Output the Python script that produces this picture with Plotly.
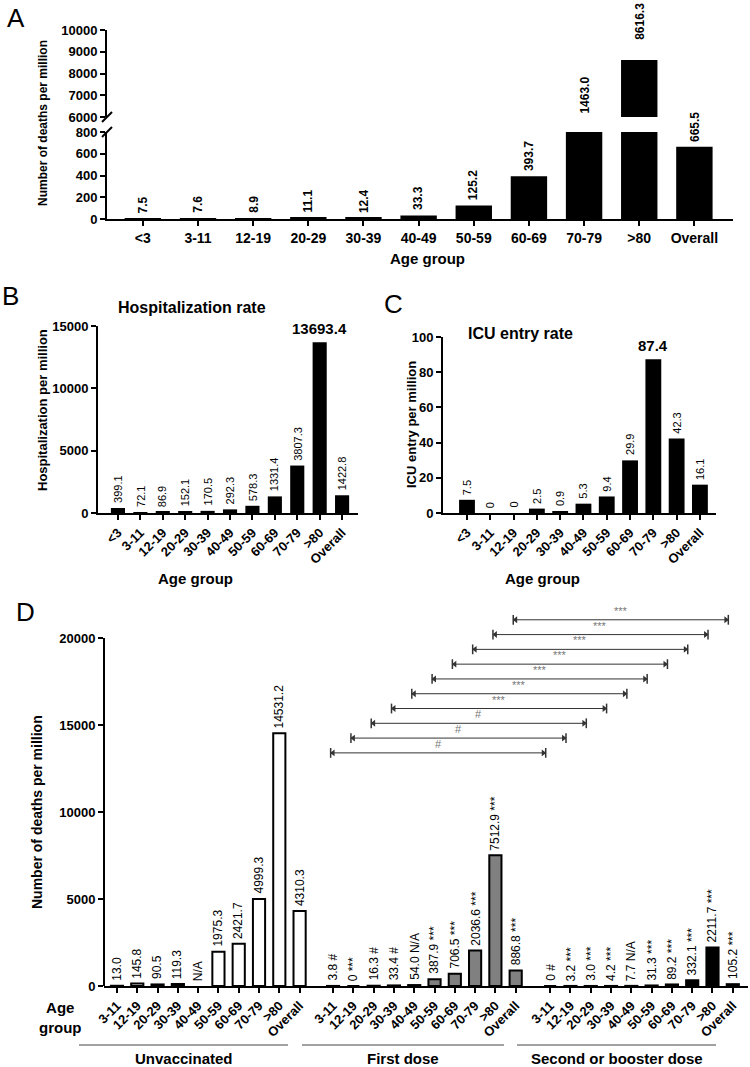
import plotly.graph_objects as go

W, H = 750, 1067
FONT = "Arial, Liberation Sans, Helvetica, sans-serif"

# ---------------- data ----------------
age_a = ["<3", "3-11", "12-19", "20-29", "30-39", "40-49", "50-59", "60-69", "70-79", ">80", "Overall"]
deaths_a = [7.5, 7.6, 8.9, 11.1, 12.4, 33.3, 125.2, 393.7, 1463.0, 8616.3, 665.5]

hosp_b = [399.1, 72.1, 86.9, 152.1, 170.5, 292.3, 578.3, 1331.4, 3807.3, 13693.4, 1422.8]
icu_c = [7.5, 0, 0, 2.5, 0.9, 5.3, 9.4, 29.9, 87.4, 42.3, 16.1]

age_d = ["3-11", "12-19", "20-29", "30-39", "40-49", "50-59", "60-69", "70-79", ">80", "Overall"]
groups_d = ["Unvaccinated", "First dose", "Second or booster dose"]
unvacc_d = [13.0, 145.8, 90.5, 119.3, None, 1975.3, 2421.7, 4999.3, 14531.2, 4310.3]
first_d = [3.8, 0, 16.3, 33.4, 54.0, 387.9, 706.5, 2036.6, 7512.9, 886.8]
second_d = [0, 3.2, 3.0, 4.2, 7.7, 31.3, 89.2, 332.1, 2211.7, 105.2]
marks_unvacc = ["", "", "", "", "N/A", "", "", "", "", ""]
marks_first = ["#", "***", "#", "#", "N/A", "***", "***", "***", "***", "***"]
marks_second = ["#", "***", "***", "***", "N/A", "***", "***", "***", "***", "***"]
bracket_marks = ["#", "#", "#", "***", "***", "***", "***", "***", "***", "***"]

# ---------------- helpers ----------------
def px(x):
    return x / W


def py(y):
    return 1 - y / H


def fmt(v):
    if v is None:
        return ""
    return "0" if v == 0 else f"{v:.1f}"


def paper_text(x, y, text, size, bold=True, angle=0, color="black", align="center"):
    return dict(x=px(x), y=py(y), xref="paper", yref="paper", text=text, showarrow=False,
                textangle=angle, xanchor="center", yanchor="middle", align=align,
                font=dict(family=FONT, size=size, color=color,
                          weight="bold" if bold else "normal"))


fig = go.Figure()
ann = []
shapes = []

axis_common = dict(showline=True, linecolor="black", linewidth=2, showgrid=False,
                   zeroline=False, ticks="outside", ticklen=5, tickwidth=2, tickcolor="black",
                   automargin=False)
ytick_font = dict(family=FONT, size=13, color="black", weight="bold")

# ---------------- Panel A (broken axis) ----------------
A_LOW = (0, 800)
A_HIGH = (6000, 10000)
for yax in ["y", "y2"]:
    fig.add_trace(go.Bar(x=age_a, y=deaths_a, xaxis="x", yaxis=yax, width=0.66,
                         marker=dict(color="black", line=dict(width=0)),
                         showlegend=False, hoverinfo="x+y"))
for cat, v in zip(age_a, deaths_a):
    if v <= A_LOW[1]:
        yref, yy, shift = "y", v, 3
    elif v < A_HIGH[0]:
        yref, yy, shift = "y2", A_HIGH[0], 1
    else:
        yref, yy, shift = "y2", v, 18
    ann.append(dict(x=cat, y=yy, xref="x", yref=yref, text=fmt(v), showarrow=False,
                    textangle=-90, xanchor="center", yanchor="bottom", yshift=shift,
                    font=dict(family=FONT, size=12, color="black", weight="bold")))

fig.update_layout(
    xaxis=dict(domain=[px(107), px(733)], anchor="y", type="category",
               categoryorder="array", categoryarray=age_a, range=[-0.65, 10.7],
               tickfont=dict(family=FONT, size=14, color="black", weight="bold"),
               **axis_common),
    yaxis=dict(domain=[py(219), py(132)], anchor="x", range=list(A_LOW),
               tickvals=[0, 200, 400, 600, 800], tickformat="d",
               tickfont=ytick_font, **axis_common),
    yaxis2=dict(domain=[py(117), py(30)], anchor="x", range=list(A_HIGH),
                tickvals=[6000, 7000, 8000, 9000, 10000], tickformat="d",
                tickfont=ytick_font, **axis_common),
)
# break marks
for yb in (117, 132):
    shapes.append(dict(type="line", xref="paper", yref="paper",
                       x0=px(102), y0=py(yb + 5), x1=px(112), y1=py(yb - 5),
                       line=dict(color="black", width=2)))
ann += [
    paper_text(43, 123, "Number of deaths per million", 12, angle=-90),
    paper_text(427, 259, "Age group", 15),
    paper_text(16, 18, "A", 26, bold=False),
]

# ---------------- Panel B ----------------
fig.add_trace(go.Bar(x=age_a, y=hosp_b, xaxis="x3", yaxis="y3", width=0.63,
                     marker=dict(color="black", line=dict(width=0)),
                     showlegend=False))
for cat, v in zip(age_a, hosp_b):
    top = v == max(hosp_b)
    ann.append(dict(x=cat, y=v, xref="x3", yref="y3", text=fmt(v), showarrow=False,
                    textangle=0 if top else -90, xanchor="center", yanchor="bottom", yshift=3,
                    font=dict(family=FONT, size=15 if top else 11, color="black",
                              weight="bold" if top else "normal")))
fig.update_layout(
    xaxis3=dict(domain=[px(98), px(358)], anchor="y3", type="category",
                categoryorder="array", categoryarray=age_a, range=[-0.89, 10.71],
                tickangle=-45, tickfont=dict(family=FONT, size=13, color="black", weight="bold"),
                **axis_common),
    yaxis3=dict(domain=[py(513), py(326)], anchor="x3", range=[0, 15000],
                tickvals=[0, 5000, 10000, 15000], tickformat="d",
                tickfont=ytick_font, **axis_common),
)
ann += [
    paper_text(42, 410, "Hospitalization per million", 13, angle=-90),
    paper_text(192, 307, "Hospitalization rate", 16),
    paper_text(195, 578, "Age group", 15),
    paper_text(10, 296, "B", 26, bold=False),
]

# ---------------- Panel C ----------------
fig.add_trace(go.Bar(x=age_a, y=icu_c, xaxis="x4", yaxis="y4", width=0.68,
                     marker=dict(color="black", line=dict(width=0)),
                     showlegend=False))
for cat, v in zip(age_a, icu_c):
    top = v == max(icu_c)
    ann.append(dict(x=cat, y=v, xref="x4", yref="y4", text=fmt(v), showarrow=False,
                    textangle=0 if top else -90, xanchor="center", yanchor="bottom", yshift=3,
                    font=dict(family=FONT, size=15 if top else 11, color="black",
                              weight="bold" if top else "normal")))
fig.update_layout(
    xaxis4=dict(domain=[px(443), px(716)], anchor="y4", type="category",
                categoryorder="array", categoryarray=age_a, range=[-1.03, 10.69],
                tickangle=-45, tickfont=dict(family=FONT, size=13, color="black", weight="bold"),
                **axis_common),
    yaxis4=dict(domain=[py(513), py(337)], anchor="x4", range=[0, 100],
                tickvals=[0, 20, 40, 60, 80, 100], tickformat="d",
                tickfont=ytick_font, **axis_common),
)
ann += [
    paper_text(412, 425, "ICU entry per million", 13, angle=-90),
    paper_text(520, 333, "ICU entry rate", 16),
    paper_text(542, 578, "Age group", 15),
    paper_text(393, 304, "C", 26, bold=False),
]

# ---------------- Panel D ----------------
offsets = [0, 10.65, 21.35]
series_d = [unvacc_d, first_d, second_d]
marks_d = [marks_unvacc, marks_first, marks_second]
colors_d = ["white", "#808080", "black"]
tickvals_d, ticktext_d = [], []
for g, (vals, marks, col, off) in enumerate(zip(series_d, marks_d, colors_d, offsets)):
    xs = [off + i for i in range(len(age_d))]
    tickvals_d += xs
    ticktext_d += age_d
    fig.add_trace(go.Bar(x=xs, y=vals, xaxis="x5", yaxis="y5", width=0.6,
                         marker=dict(color=col, line=dict(color="black", width=2)),
                         showlegend=False, name=groups_d[g]))
    for x, v, m in zip(xs, vals, marks):
        txt = (fmt(v) + (" " + m if m else "")) if v is not None else m
        ann.append(dict(x=x, y=v if v is not None else 0, xref="x5", yref="y5", text=txt,
                        showarrow=False, textangle=-90, xanchor="center", yanchor="bottom",
                        yshift=3, font=dict(family=FONT, size=12, color="black")))

fig.update_layout(
    xaxis5=dict(domain=[px(104), px(748)], anchor="y5", range=[-0.64, 31.1],
                tickvals=tickvals_d, ticktext=ticktext_d, tickangle=-45,
                tickfont=dict(family=FONT, size=13, color="black", weight="bold"),
                **axis_common),
    yaxis5=dict(domain=[py(986), py(605)], anchor="x5", range=[0, 21900],
                tickvals=[0, 5000, 10000, 15000, 20000], tickformat="d",
                tickfont=ytick_font, **{**axis_common, "showline": False}),
)
shapes.append(dict(type="line", xref="x5 domain", yref="y5", x0=0, x1=0, y0=0, y1=20000,
                   line=dict(color="black", width=2)))

# comparison brackets (first dose vs second/booster dose, same age group)
for k, m in enumerate(bracket_marks):
    x0 = offsets[1] + k - 0.12
    x1 = offsets[2] + k - 0.22
    yb = 13400 + 850 * k
    fig.add_trace(go.Scatter(x=[x0, x1], y=[yb, yb], xaxis="x5", yaxis="y5", mode="lines",
                             line=dict(color="#333333", width=1), showlegend=False, hoverinfo="skip"))
    fig.add_trace(go.Scatter(x=[x0 + 0.12, x1 - 0.12], y=[yb, yb], xaxis="x5", yaxis="y5",
                             mode="markers", marker=dict(symbol=["triangle-left", "triangle-right"],
                                                         size=6, color="#333333"),
                             showlegend=False, hoverinfo="skip"))
    fig.add_trace(go.Scatter(x=[x0, x1], y=[yb, yb], xaxis="x5", yaxis="y5", mode="markers",
                             marker=dict(symbol="line-ns", size=7,
                                         line=dict(color="#333333", width=1.5)),
                             showlegend=False, hoverinfo="skip"))
    ann.append(dict(x=(x0 + x1) / 2, y=yb, xref="x5", yref="y5", text=m, showarrow=False,
                    xanchor="center", yanchor="bottom", yshift=1,
                    font=dict(family=FONT, size=11, color="#777777")))

# group underlines and labels
group_spans = [(79, 288), (302, 504), (517, 716)]
for (a, b), name in zip(group_spans, groups_d):
    shapes.append(dict(type="line", xref="paper", yref="paper", x0=px(a), x1=px(b),
                       y0=py(1045), y1=py(1045), line=dict(color="#444444", width=1)))
    ann.append(paper_text((a + b) / 2, 1058, name, 15))

ann += [
    paper_text(60, 1017, "Age<br>group", 15),
    paper_text(37, 812, "Number of deaths per million", 14, angle=-90),
    paper_text(25, 612, "D", 26, bold=False),
]

fig.update_layout(
    width=W, height=H, autosize=False,
    margin=dict(l=0, r=0, t=0, b=0, autoexpand=False),
    paper_bgcolor="white", plot_bgcolor="white",
    bargap=0.3, showlegend=False,
    annotations=ann, shapes=shapes,
    font=dict(family=FONT, color="black"),
)

fig.write_html("out.html", include_plotlyjs=True, config={"displayModeBar": False},
               post_script="document.body.style.margin='0';document.body.style.overflow='hidden';")
